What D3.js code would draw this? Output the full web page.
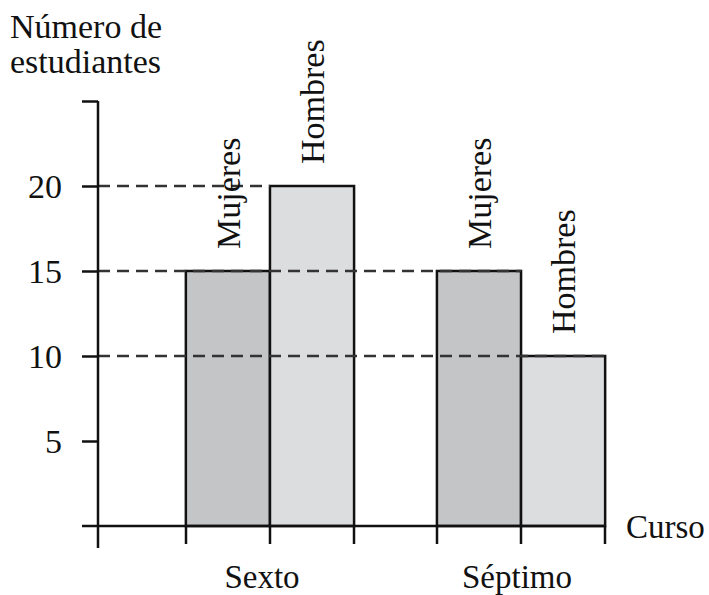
<!DOCTYPE html>
<html><head><meta charset="utf-8">
<script src="https://cdn.jsdelivr.net/npm/d3@7"></script>
<style>body{margin:0;background:#fff}svg{display:block}text{font-family:"Liberation Serif","Times New Roman",serif;fill:#111}</style>
</head><body>
<svg id="c" width="709" height="595"></svg>
<script>
const courses = ["Sexto", "Séptimo"];
const genders = ["Mujeres", "Hombres"];
const mujeres = [15, 15];
const hombres = [20, 10];
const yTicks = [5, 10, 15, 20, 25];
const yTickLabels = ["5", "10", "15", "20", ""];
const guideValues = [20, 15, 10];

const svg = d3.select("#c");
const axisX = 98, baseY = 526;
const y = d3.scaleLinear().domain([0, 25]).range([baseY, 101]);
const x0 = d3.scaleBand().domain(courses).range([103, 688]).paddingInner(0.33).paddingOuter(0.33);
const x1 = d3.scaleBand().domain(genders).range([0, x0.bandwidth()]);
const fills = {Mujeres: "#c4c5c7", Hombres: "#dcdddf"};

const data = [];
courses.forEach((c, i) => {
  data.push({course: c, gender: "Mujeres", value: mujeres[i]});
  data.push({course: c, gender: "Hombres", value: hombres[i]});
});
const bx = d => x0(d.course) + x1(d.gender);

// bars
svg.selectAll("rect.bar").data(data).join("rect")
  .attr("x", bx).attr("y", d => y(d.value))
  .attr("width", x1.bandwidth()).attr("height", d => baseY - y(d.value))
  .attr("fill", d => fills[d.gender]).attr("stroke", "#111").attr("stroke-width", 2.5);

// guide dashed lines
guideValues.forEach(v => {
  const reach = data.filter(d => d.value >= v);
  const xe = d3.max(reach, d => bx(d) + x1.bandwidth());
  svg.append("line").attr("x1", axisX).attr("x2", xe - (v === 20 ? x1.bandwidth() : 0))
    .attr("y1", y(v)).attr("y2", y(v))
    .attr("stroke", "#333").attr("stroke-width", 2.6).attr("stroke-dasharray", "12,7");
});

// axes
const yAxis = d3.axisLeft(y).tickValues(yTicks).tickFormat((d, i) => yTickLabels[i]).tickSize(16).tickPadding(20);
const gy = svg.append("g").attr("transform", `translate(${axisX},0)`).call(yAxis)
  .attr("font-size", null).attr("font-family", null);
gy.select(".domain").remove();
gy.selectAll(".tick line").attr("stroke", "#111").attr("stroke-width", 2.5);
gy.selectAll(".tick text").attr("x", -36).attr("dy", "0.34em").style("font-size", "34px").attr("fill", "#111");
svg.append("line").attr("x1", axisX).attr("x2", axisX).attr("y1", y(25)).attr("y2", 548)
  .attr("stroke", "#111").attr("stroke-width", 2.5);

svg.append("line").attr("x1", 82).attr("x2", 606).attr("y1", baseY).attr("y2", baseY)
  .attr("stroke", "#111").attr("stroke-width", 2.5);
const edges = [];
courses.forEach(c => { edges.push(x0(c)); edges.push(x0(c) + x1.bandwidth()); edges.push(x0(c) + x0.bandwidth()); });
svg.selectAll("line.xt").data(Array.from(new Set(edges.map(e => Math.round(e))))).join("line")
  .attr("x1", d => d).attr("x2", d => d).attr("y1", baseY).attr("y2", 544)
  .attr("stroke", "#111").attr("stroke-width", 2.5);

// course labels
svg.selectAll("text.course").data(courses).join("text")
  .attr("x", d => x0(d) + x0.bandwidth() / 2 - (d === "Séptimo" ? 4 : 8)).attr("y", 588)
  .attr("text-anchor", "middle").style("font-size", "33px").text(d => d);

// bar labels rotated
svg.selectAll("text.bl").data(data).join("text")
  .attr("transform", d => `translate(${bx(d) + x1.bandwidth() / 2 + 12},${y(d.value) - 22}) rotate(-90)`)
  .attr("text-anchor", "start").style("font-size", "34px").text(d => d.gender);

// titles
svg.append("text").attr("x", 10).attr("y", 38).style("font-size", "34px").text("Número de");
svg.append("text").attr("x", 10).attr("y", 73).style("font-size", "34px").text("estudiantes");
svg.append("text").attr("x", 626).attr("y", 538).style("font-size", "33px").text("Curso");
</script>
</body></html>
